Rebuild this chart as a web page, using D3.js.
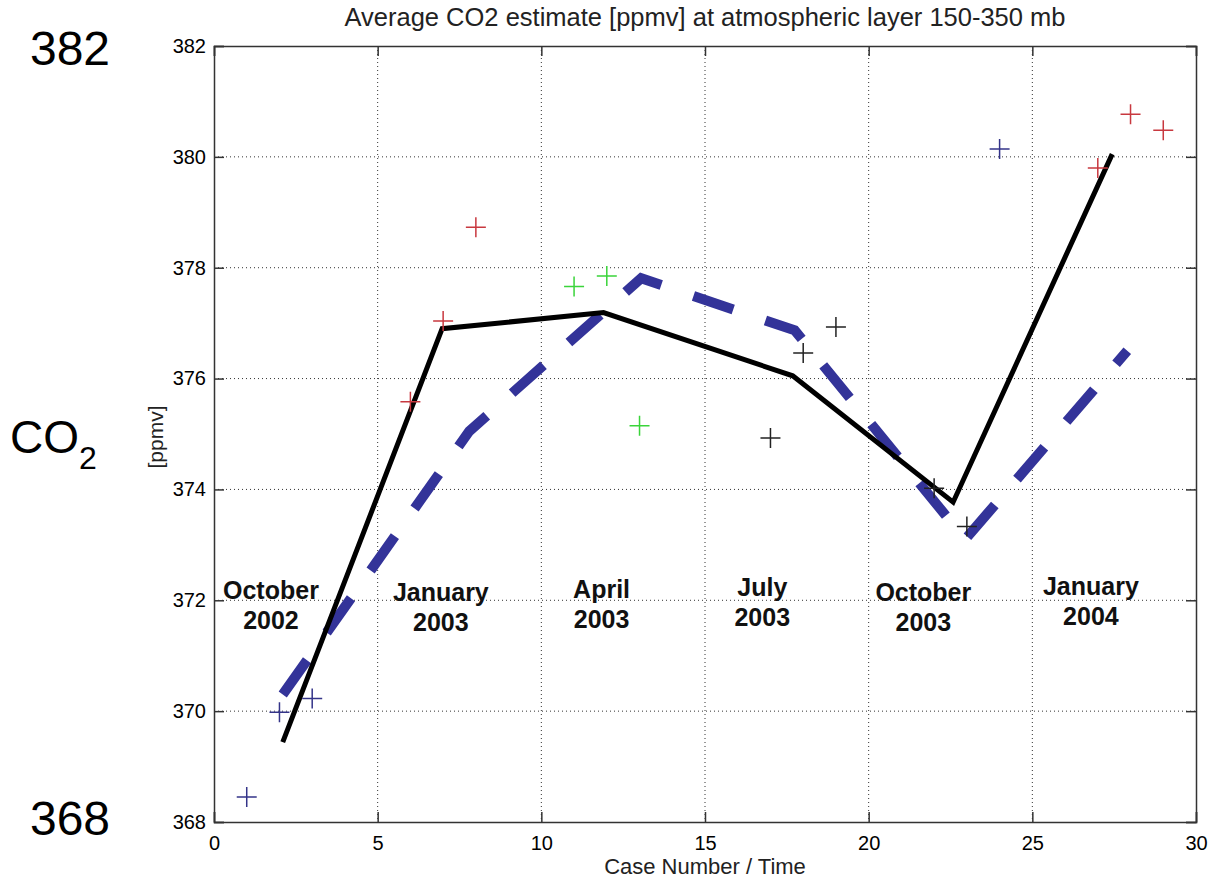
<!DOCTYPE html>
<html>
<head>
<meta charset="utf-8">
<script src="https://cdn.jsdelivr.net/npm/d3@7"></script>
<style>
  body { margin: 0; background: #fff; }
  svg { display: block; font-family: "Liberation Sans", Arial, Helvetica, sans-serif; }
</style>
</head>
<body>
<div id="chart"></div>
<script>
// individual case estimates
const caseNum = [1, 2, 3, 6, 7, 8, 11, 12, 13, 17, 18, 19, 22, 23, 24, 27, 28, 29];
const caseCo2 = [368.45, 369.98, 370.23, 375.58, 377.04, 378.73, 377.66, 377.85, 375.15,
                 374.93, 376.46, 376.93, 374.02, 373.33, 380.14, 379.80, 380.77, 380.48];
const caseGroup = ["blue", "blue", "blue", "red", "red", "red", "green", "green", "green",
                   "black", "black", "black", "black", "black", "blue", "red", "red", "red"];

// seasonal mean (solid) and reference (dashed) curves
const meanCase = [2.1, 6.97, 11.9, 17.68, 22.58, 27.44];
const meanCo2 = [369.44, 376.9, 377.19, 376.05, 373.77, 380.05];
const refCase = [2.1, 7.8, 13.05, 17.74, 22.95, 27.9];
const refCo2 = [370.3, 375.05, 377.81, 376.87, 373.1, 376.5];

// period annotations
const periodMonth = ["October", "January", "April", "July", "October", "January"];
const periodYear = ["2002", "2003", "2003", "2003", "2003", "2004"];
const periodCase = [1.74, 6.93, 11.84, 16.75, 21.67, 26.79];
const periodCo2 = [372.03, 371.99, 372.05, 372.08, 371.99, 372.1];

const xTicks = [0, 5, 10, 15, 20, 25, 30];
const yTicks = [368, 370, 372, 374, 376, 378, 380, 382];

const width = 1209, height = 881;
const plotL = 214, plotR = 1196, plotT = 46, plotB = 822;

const plusColor = { blue: "#343489", red: "#c8383f", green: "#3ad43a", black: "#222" };

const svg = d3.select("#chart").append("svg")
  .attr("width", width).attr("height", height);

const x = d3.scaleLinear().domain([0, 30]).range([plotL, plotR]);
const y = d3.scaleLinear().domain([368, 382]).range([plotB, plotT]);

// grid
svg.append("g").selectAll("line")
  .data(xTicks.slice(1, -1))
  .join("line")
  .attr("x1", d => x(d)).attr("x2", d => x(d))
  .attr("y1", plotT).attr("y2", plotB)
  .attr("stroke", "#333").attr("stroke-width", 1).attr("stroke-dasharray", "1,3");

svg.append("g").selectAll("line")
  .data(yTicks.slice(1, -1))
  .join("line")
  .attr("x1", plotL).attr("x2", plotR)
  .attr("y1", d => y(d)).attr("y2", d => y(d))
  .attr("stroke", "#333").attr("stroke-width", 1).attr("stroke-dasharray", "1,3");

// axes (inward ticks on all four sides, matlab style)
const axB = svg.append("g").attr("transform", `translate(0,${plotB})`)
  .call(d3.axisBottom(x).tickValues(xTicks).tickSize(-10).tickPadding(14));
const axT = svg.append("g").attr("transform", `translate(0,${plotT})`)
  .call(d3.axisTop(x).tickValues(xTicks).tickSize(-10).tickFormat(""));
const axL = svg.append("g").attr("transform", `translate(${plotL},0)`)
  .call(d3.axisLeft(y).tickValues(yTicks).tickSize(-10).tickPadding(8));
const axR = svg.append("g").attr("transform", `translate(${plotR},0)`)
  .call(d3.axisRight(y).tickValues(yTicks).tickSize(-10).tickFormat(""));

[axB, axT, axL, axR].forEach(a => {
  a.select(".domain").attr("stroke", "#333").attr("stroke-width", 1.5);
  a.selectAll(".tick line").attr("stroke", "#333").attr("stroke-width", 1.5);
  a.selectAll("text").attr("font-size", "20px").attr("fill", "#000")
    .attr("font-family", "Liberation Sans, Arial, sans-serif");
});

// dashed reference curve
const line = d3.line().x(d => x(d[0])).y(d => y(d[1]));

svg.append("path")
  .datum(d3.zip(refCase, refCo2))
  .attr("d", line)
  .attr("fill", "none")
  .attr("stroke", "#333399")
  .attr("stroke-width", 10)
  .attr("stroke-dasharray", "42,34");

// solid mean curve
svg.append("path")
  .datum(d3.zip(meanCase, meanCo2))
  .attr("d", line)
  .attr("fill", "none")
  .attr("stroke", "#000")
  .attr("stroke-width", 5);

// plus markers
const pts = d3.zip(caseNum, caseCo2, caseGroup);
const s = 10;
svg.append("g").selectAll("path")
  .data(pts)
  .join("path")
  .attr("d", d => `M${x(d[0]) - s},${y(d[1])}H${x(d[0]) + s}M${x(d[0])},${y(d[1]) - s}V${y(d[1]) + s}`)
  .attr("stroke", d => plusColor[d[2]])
  .attr("stroke-width", 1.5)
  .attr("fill", "none");

// period labels
const lab = svg.append("g")
  .attr("font-size", "25px").attr("font-weight", "bold")
  .attr("text-anchor", "middle").attr("fill", "#111");
periodMonth.forEach((m, i) => {
  lab.append("text").attr("x", x(periodCase[i])).attr("y", y(periodCo2[i])).text(m);
  lab.append("text").attr("x", x(periodCase[i])).attr("y", y(periodCo2[i]) + 30).text(periodYear[i]);
});

// title and axis labels
svg.append("text")
  .attr("x", (plotL + plotR) / 2).attr("y", 26)
  .attr("text-anchor", "middle").attr("font-size", "25.5px").attr("fill", "#222")
  .text("Average CO2 estimate [ppmv] at atmospheric layer 150-350 mb");

svg.append("text")
  .attr("x", (plotL + plotR) / 2).attr("y", 874)
  .attr("text-anchor", "middle").attr("font-size", "22px").attr("fill", "#222")
  .text("Case Number / Time");

svg.append("text")
  .attr("transform", "translate(163,437) rotate(-90)")
  .attr("text-anchor", "middle").attr("font-size", "21px").attr("fill", "#222")
  .text("[ppmv]");

// large side labels
svg.append("text").attr("x", 70).attr("y", 65)
  .attr("text-anchor", "middle").attr("font-size", "48px").text("382");
svg.append("text").attr("x", 70).attr("y", 835)
  .attr("text-anchor", "middle").attr("font-size", "48px").text("368");

const co2 = svg.append("text").attr("x", 10).attr("y", 453).attr("font-size", "46px");
co2.append("tspan").text("CO");
co2.append("tspan").attr("font-size", "32px").attr("dy", 16).text("2");
</script>
</body>
</html>
